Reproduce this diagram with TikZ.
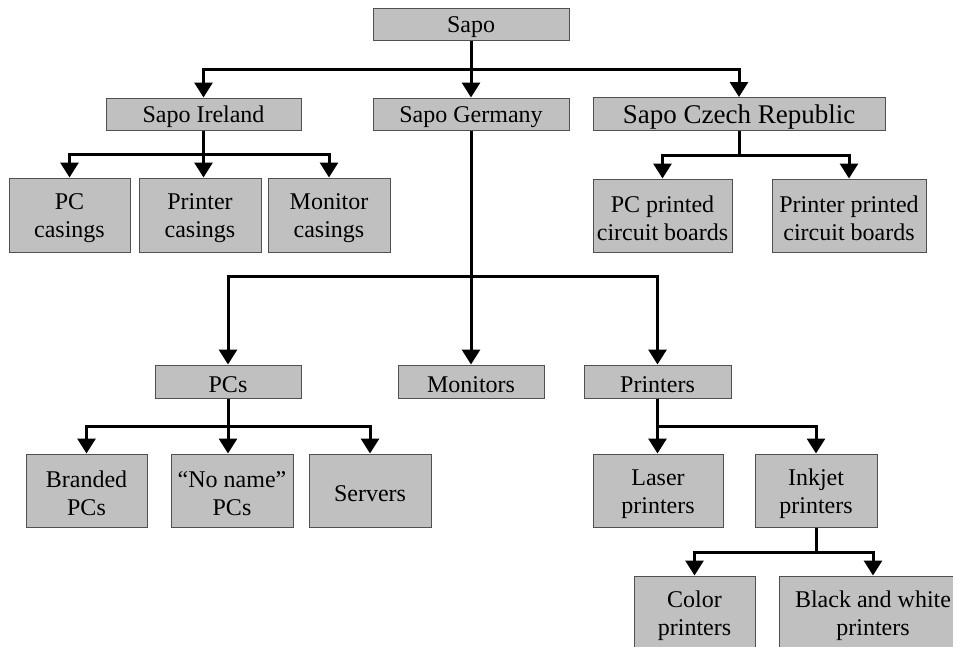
\documentclass[tikz,border=0pt]{standalone}
\usepackage{fontspec}
\setmainfont{Liberation Serif}
\usetikzlibrary{arrows.meta}
\definecolor{boxfill}{HTML}{C0C0C0}
\definecolor{boxline}{HTML}{505050}
\newcommand\dn{\rule{0pt}{23pt}}
\begin{document}
\begin{tikzpicture}[x=1pt,y=-1pt,
  box/.style={draw=boxline,fill=boxfill,line width=1pt,inner sep=0pt,align=center,
    font=\fontsize{24}{28}\selectfont},
  ln/.style={line width=3pt,black},
  arr/.style={line width=3pt,black,-{Triangle[width=18pt,length=15pt]}}]
\useasboundingbox (0,0) rectangle (953,646);
\fill[white] (0,0) rectangle (953,646);
\clip (0,0) rectangle (953,646);
% level 0 and 1
\node[box,minimum width=196pt,minimum height=32pt] (sapo) at (471,24) {\dn Sapo};
\node[box,minimum width=195pt,minimum height=32pt] (ireland) at (203.5,114) {\dn Sapo Ireland};
\node[box,minimum width=196pt,minimum height=32pt] (germany) at (471,114) {\dn Sapo Germany};
\node[box,minimum width=292pt,minimum height=33pt,font=\fontsize{27}{30}\selectfont] (czech) at (739,114) {\rule{0pt}{25pt}Sapo Czech Republic};
% Ireland children
\node[box,minimum width=121pt,minimum height=74pt] (pccas) at (69.5,215) {\dn PC\\casings};
\node[box,minimum width=122pt,minimum height=74pt] (prcas) at (200,215) {\dn Printer\\casings};
\node[box,minimum width=122pt,minimum height=74pt] (mocas) at (329,215) {\dn Monitor\\casings};
% Czech children
\node[box,minimum width=139pt,minimum height=73pt] (pcpcb) at (662.5,215.5) {\dn PC printed\\circuit boards};
\node[box,minimum width=154pt,minimum height=73pt] (prpcb) at (849,215.5) {\dn Printer printed\\circuit boards};
% Germany children
\node[box,minimum width=146pt,minimum height=33pt] (pcs) at (228,381.5) {\dn PCs};
\node[box,minimum width=146pt,minimum height=33pt] (monitors) at (471,381.5) {\dn Monitors};
\node[box,minimum width=147pt,minimum height=33pt] (printers) at (657.5,381.5) {\dn Printers};
% PCs children
\node[box,minimum width=121pt,minimum height=73pt] (branded) at (86.5,490.5) {\dn Branded\\PCs};
\node[box,minimum width=122pt,minimum height=73pt] (noname) at (232,490.5) {\dn “No name”\\PCs};
\node[box,minimum width=122pt,minimum height=73pt] (servers) at (370,490.5) {\dn Servers};
% Printers children
\node[box,minimum width=130pt,minimum height=73pt] (laser) at (658,490.5) {\dn Laser\\printers};
\node[box,minimum width=122pt,minimum height=73pt] (inkjet) at (816,490.5) {\dn Inkjet\\printers};
% Inkjet children
\node[box,minimum width=121pt,minimum height=73pt] (color) at (694.5,612.5) {\dn Color\\printers};
\node[box,minimum width=188pt,minimum height=73pt] (bw) at (873,612.5) {\dn Black and white\\printers};
% bus coordinates
\coordinate (b0) at (471,69);
\coordinate (bi) at (203.5,154);
\coordinate (bc) at (739,155);
\coordinate (bg) at (471,276);
\coordinate (bp) at (228,426);
\coordinate (bpr) at (657.5,426);
\coordinate (bk) at (816,552);
% connectors
\draw[ln] (sapo.south) -- (b0);
\draw[arr] (b0) -| (ireland.north);
\draw[arr] (b0) -- (germany.north);
\draw[arr] (b0) -| (czech.north);
\draw[ln] (ireland.south) -- (bi);
\draw[arr] (bi) -| (pccas.north);
\draw[arr] (bi) -- (bi |- prcas.north);
\draw[arr] (bi) -| (mocas.north);
\draw[ln] (czech.south) -- (bc);
\draw[arr] (bc) -| (pcpcb.north);
\draw[arr] (bc) -| (prpcb.north);
\draw[ln] (germany.south) -- (bg);
\draw[arr] (bg) -| (pcs.north);
\draw[arr] (bg) -- (monitors.north);
\draw[arr] (bg) -| (printers.north);
\draw[ln] (pcs.south) -- (bp);
\draw[arr] (bp) -| (branded.north);
\draw[arr] (bp) -- (bp |- noname.north);
\draw[arr] (bp) -| (servers.north);
\draw[ln] (printers.south) -- (bpr);
\draw[arr] (bpr) -- (bpr |- laser.north);
\draw[arr] (bpr) -| (inkjet.north);
\draw[ln] (inkjet.south) -- (bk);
\draw[arr] (bk) -| (color.north);
\draw[arr] (bk) -| (bw.north);
\end{tikzpicture}
\end{document}
